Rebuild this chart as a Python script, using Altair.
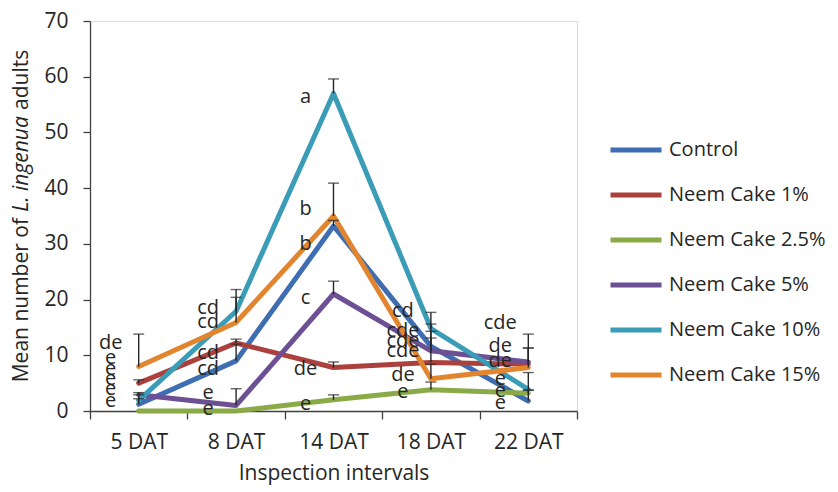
import altair as alt
import pandas as pd

categories = ["5 DAT", "8 DAT", "14 DAT", "18 DAT", "22 DAT"]
series = ["Control", "Neem Cake 1%", "Neem Cake 2.5%", "Neem Cake 5%", "Neem Cake 10%", "Neem Cake 15%"]
colors = ["#3E6DB2", "#AB403D", "#8AAA48", "#6D5094", "#3A9CB6", "#E2852F"]

# mean values
control = [1.2, 9.0, 33.2, 11.6, 1.8]
neem_1 = [5.0, 12.2, 7.8, 8.7, 8.4]
neem_2_5 = [0.0, 0.0, 2.0, 3.8, 3.2]
neem_5 = [2.9, 1.0, 21.0, 10.8, 8.8]
neem_10 = [1.9, 17.9, 57.0, 14.8, 3.9]
neem_15 = [8.0, 15.9, 35.0, 5.8, 7.8]

# standard errors (plus direction only)
se_control = [1.0, 3.0, 1.0, 4.0, 2.0]
se_neem_1 = [0.6, 0.7, 1.0, 4.4, 2.9]
se_neem_2_5 = [0.0, 0.0, 0.9, 1.4, 0.5]
se_neem_5 = [0.4, 3.0, 2.3, 3.5, 5.0]
se_neem_10 = [1.0, 3.9, 2.6, 2.9, 3.0]
se_neem_15 = [5.8, 4.5, 5.9, 2.6, 3.5]

# significance letters and their heights (data units)
label_interval = ["5 DAT"] * 6 + ["8 DAT"] * 6 + ["14 DAT"] * 6 + ["18 DAT"] * 6 + ["22 DAT"] * 6
label_text = ["de", "e", "e", "e", "e", "e",
              "cd", "cd", "cd", "cd", "e", "e",
              "a", "b", "b", "c", "de", "e",
              "cd", "cde", "cde", "cde", "de", "e",
              "cde", "de", "de", "e", "e", "e"]
label_height = [12.2, 9.5, 7.5, 5.7, 3.9, 1.8,
                18.4, 15.9, 10.4, 7.5, 3.2, 0.4,
                56.4, 36.2, 29.9, 20.2, 7.5, 1.3,
                17.9, 14.3, 12.5, 10.7, 6.4, 3.4,
                15.8, 11.6, 9.0, 5.7, 3.6, 1.4]

y_ticks = [0, 10, 20, 30, 40, 50, 60, 70]

FONT = "Open Sans"
TXT = "#262626"
AX = "#404040"

means = [control, neem_1, neem_2_5, neem_5, neem_10, neem_15]
ses = [se_control, se_neem_1, se_neem_2_5, se_neem_5, se_neem_10, se_neem_15]
rows = []
for s, vals, errs in zip(series, means, ses):
    for i, (c, v, e) in enumerate(zip(categories, vals, errs)):
        rows.append({"interval": c, "idx": i, "series": s, "mean": v, "upper": v + e, "se": e})
df = pd.DataFrame(rows)
labels_df = pd.DataFrame({"interval": label_interval, "label": label_text, "h": label_height})

x_scale = alt.Scale(type="band", paddingInner=0, paddingOuter=0)
x_enc = alt.X(
    "interval:N", sort=categories, scale=x_scale, bandPosition=0.5,
    axis=alt.Axis(
        title="Inspection intervals", labelAngle=0, tickBand="extent", tickSize=8,
        labelPadding=12, labelFont=FONT, labelFontSize=21, labelColor=TXT,
        titleFont=FONT, titleFontSize=21, titleFontWeight="normal", titleColor=TXT,
        titlePadding=10, domainColor=AX, tickColor=AX, domainWidth=1.3, tickWidth=1.3,
    ),
)
y_scale = alt.Scale(domain=[0, 70], nice=False)
y_axis = alt.Axis(
    title=None, values=y_ticks, grid=False, tickSize=7, labelPadding=15,
    labelFont=FONT, labelFontSize=21, labelColor=TXT,
    domainColor=AX, tickColor=AX, domainWidth=1.3, tickWidth=1.3,
)

base = alt.Chart(df)

lines = base.mark_line(strokeWidth=5, strokeCap="round", strokeJoin="round").encode(
    x=x_enc,
    y=alt.Y("mean:Q", scale=y_scale, axis=y_axis),
    color=alt.Color(
        "series:N", sort=series,
        scale=alt.Scale(domain=series, range=colors),
        legend=alt.Legend(
            title=None, orient="none", legendX=518, legendY=101, symbolType="stroke",
            symbolSize=2601, symbolStrokeWidth=5, rowPadding=7, labelOffset=5, padding=0,
            labelFont=FONT, labelFontSize=20, labelColor=TXT, labelLimit=300,
        ),
    ),
    order=alt.Order("idx:Q", sort="ascending"),
    detail="series:N",
)

err_df = df[df["se"] > 0]
err_rule = alt.Chart(err_df).mark_rule(color="#262626", strokeWidth=1.4).encode(
    x=alt.X("interval:N", sort=categories, bandPosition=0.5),
    y="mean:Q",
    y2="upper:Q",
)
err_cap = alt.Chart(err_df).mark_tick(color="#262626", thickness=1.4, size=11, orient="horizontal").encode(
    x=alt.X("interval:N", sort=categories, bandPosition=0.5),
    y="upper:Q",
)

letters = alt.Chart(labels_df).mark_text(
    dx=-28, align="center", baseline="middle", font=FONT, fontSize=20, color=TXT
).encode(
    x=alt.X("interval:N", sort=categories, bandPosition=0.5),
    y="h:Q",
    text="label:N",
)

t1 = alt.Chart(pd.DataFrame({"t": ["Mean number of"]})).mark_text(
    angle=270, align="right", baseline="middle", font=FONT, fontSize=21, color=TXT
).encode(x=alt.value(-68), y=alt.value(197), text="t:N")
t2 = alt.Chart(pd.DataFrame({"t": ["L. ingenua"]})).mark_text(
    angle=270, align="center", baseline="middle", font=FONT, fontSize=21, fontStyle="italic", color=TXT
).encode(x=alt.value(-68), y=alt.value(143), text="t:N")
t3 = alt.Chart(pd.DataFrame({"t": ["adults"]})).mark_text(
    angle=270, align="left", baseline="middle", font=FONT, fontSize=21, color=TXT
).encode(x=alt.value(-68), y=alt.value(89), text="t:N")

chart = alt.layer(lines, err_rule, err_cap, letters, t1, t2, t3).properties(
    width=487, height=390,
    padding={"left": 3, "top": 2, "right": 0, "bottom": 5},
).configure_view(stroke=None).configure(background="white")

chart.save("out.html", embed_options={"renderer": "svg", "actions": False})
